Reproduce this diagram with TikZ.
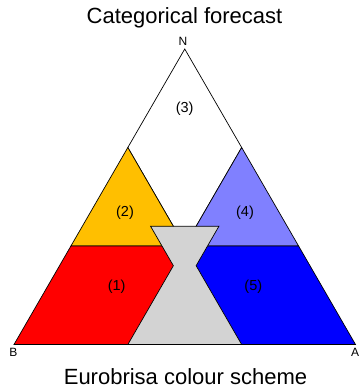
\documentclass[tikz,border=0pt]{standalone}
\usepackage{fontspec}
\setmainfont{Liberation Sans}
\definecolor{catred}{RGB}{255,0,0}
\definecolor{catyellow}{RGB}{255,191,0}
\definecolor{catlblue}{RGB}{128,128,255}
\definecolor{catblue}{RGB}{0,0,255}
\definecolor{catgrey}{RGB}{211,211,211}
\tikzset{
  region/.style={draw=black,line width=0.7pt,line join=miter},
  catlabel/.style={font=\fontsize{14.5}{16}\selectfont},
  cornerlabel/.style={font=\fontsize{12}{14}\selectfont,inner sep=0pt},
  heading/.style={font=\fontsize{22}{26}\selectfont,anchor=base,inner sep=0pt}
}

\begin{document}
\begin{tikzpicture}[x=1pt,y=-1pt]
\useasboundingbox (0,0) rectangle (359,388);
% corners of the ternary triangle
\coordinate (B) at (14,344.5);
\coordinate (A) at (355.5,344.5);
\coordinate (N) at (184.75,49);
% thirds on the edges and the centre
\coordinate (L2) at (127.83,147.5);
\coordinate (R2) at (241.67,147.5);
\coordinate (L1) at (70.92,246);
\coordinate (R1) at (298.58,246);
\coordinate (C) at (184.75,246);
\coordinate (M) at (184.75,344.5);
% the five categories
\draw[region,fill=white] (N)--(L2)--(C)--(R2)--cycle;
\draw[region,fill=catyellow] (L2)--(L1)--(C)--cycle;
\draw[region,fill=catlblue] (R2)--(C)--(R1)--cycle;
\draw[region,fill=catred] (L1)--(B)--(M)--(C)--cycle;
\draw[region,fill=catblue] (C)--(M)--(A)--(R1)--cycle;
% grey hourglass
\draw[region,fill=catgrey] (150.6,226.3)--(218.9,226.3)--(196.13,265.7)--(241.67,344.5)
  --(127.83,344.5)--(173.37,265.7)--cycle;
\node[catlabel] (c1) at (116.7,286.5) {(1)};
\node[catlabel] (c2) at (125,212.5) {(2)};
\node[catlabel] (c3) at (184.7,109) {(3)};
\node[catlabel] (c4) at (245,212.5) {(4)};
\node[catlabel] (c5) at (253.3,286.5) {(5)};
\node[cornerlabel] (nN) at (182.9,41.7) {N};
\node[cornerlabel] (nB) at (13.3,352) {B};
\node[cornerlabel] (nA) at (355,352) {A};
\node[heading] (title) at (184.5,23.5) {Categorical forecast};
\node[heading] (scheme) at (185.5,384) {Eurobrisa colour scheme};
\end{tikzpicture}
\end{document}
